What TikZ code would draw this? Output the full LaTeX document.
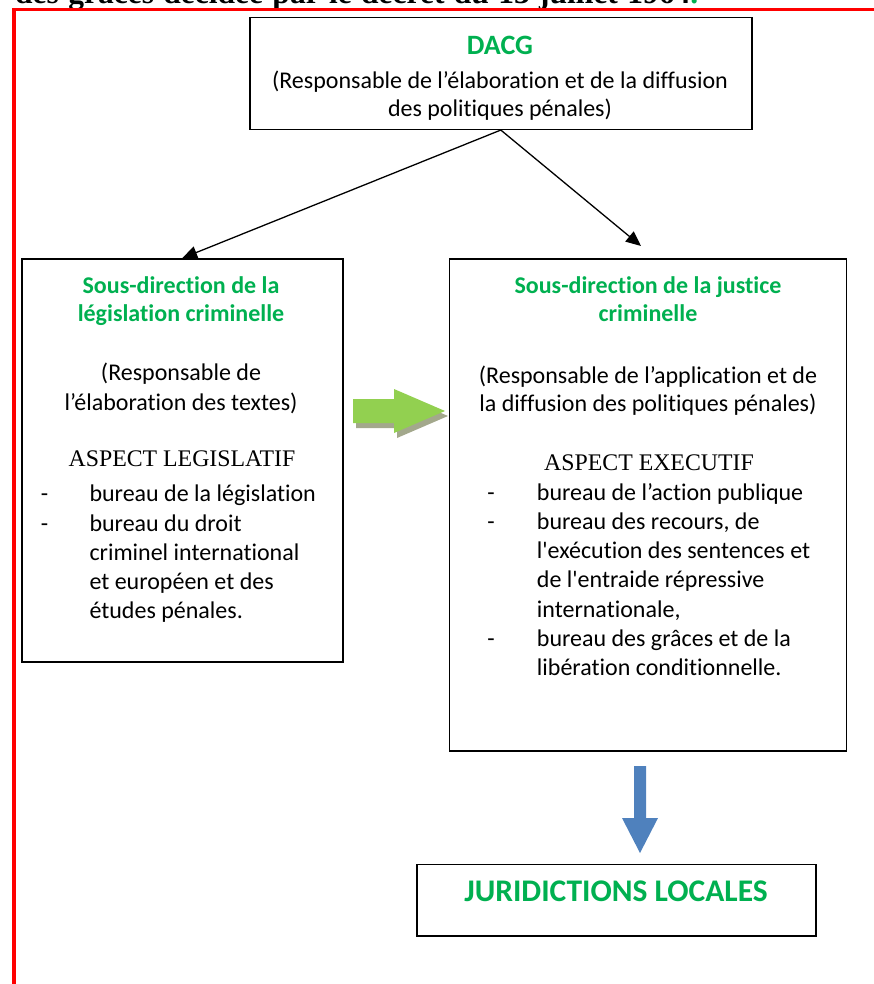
\documentclass[tikz,border=0pt]{standalone}
\usepackage{fontspec}
\newfontfamily\calfont{Carlito}[Ligatures=NoCommon]
\newfontfamily\garfont{Liberation Serif}
\usetikzlibrary{arrows.meta,calc}
\definecolor{hgreen}{HTML}{00B050}
\definecolor{agreen}{HTML}{92D050}
\definecolor{ashadow}{HTML}{A3A88C}
\definecolor{ablue}{HTML}{4F81BD}
\definecolor{fred}{HTML}{FF0000}
\begin{document}
\begin{tikzpicture}[x=1pt,y=-1pt,
  box/.style={draw=black, line width=1.6pt, inner sep=0pt},
  txt/.style={inner sep=0pt, anchor=base, font=\calfont\fontsize{24}{29}\selectfont},
  item/.style={inner sep=0pt, anchor=base west, font=\calfont\fontsize{24}{29}\selectfont},
  dashmark/.style={inner sep=0pt, anchor=base, font=\calfont\fontsize{24}{29}\selectfont},
  head/.style={inner sep=0pt, anchor=base, text=hgreen, font=\calfont\fontsize{24}{29}\selectfont\bfseries},
  aspect/.style={inner sep=0pt, anchor=base, font=\garfont\fontsize{23.8}{28}\selectfont},
  conn/.style={line width=1.3pt, -{Triangle[length=15pt,width=13pt]}}
]
\useasboundingbox (0,0) rectangle (873,984);

% clipped caption line at the very top
\node[inner sep=0pt, anchor=base west, font=\garfont\bfseries\fontsize{31.5}{34}\selectfont] (toptext) at (15,4)
  {\makebox[683pt][s]{des grâces décidée par le décret du 13 juillet 1964\textcolor{hgreen}{.}}};

% red frame
\draw[fred, line width=3.5pt] (14,990) -- (14,9.5) -- (880,9.5);

% boxes
\node[box, line width=1.5pt, minimum width=502pt, minimum height=112pt] (dacg) at (500.8,73.3) {};
\node[box, minimum width=321pt, minimum height=403pt] (lbox) at (182.2,460.5) {};
\node[box, minimum width=397pt, minimum height=491.5pt] (rbox) at (648,505) {};
\node[box, line width=1.5pt, minimum width=399pt, minimum height=71.7pt] (jbox) at (616.3,900.2) {};

% connectors
\coordinate (rtip) at (641,246);
\draw[conn] (dacg.south) -- (lbox.north);
\draw[conn] (dacg.south) -- (rtip);

% green block arrow with shadow
\fill[ashadow] (356,404) -- (397,404) -- (397,394) -- (448,416) -- (397,438) -- (397,428) -- (356,428) -- cycle;
\fill[agreen] (353,399) -- (394,399) -- (394,389) -- (445,411) -- (394,433) -- (394,423) -- (353,423) -- cycle;

% blue block arrow
\fill[ablue] (634,766) -- (646,766) -- (646,818) -- (658,818) -- (640,853) -- (622,818) -- (634,818) -- cycle;

% DACG texts
\node[head, font=\calfont\fontsize{28}{34}\selectfont\bfseries] (dacgt) at (500,55) {DACG};
\node[txt] (dacg1) at (500,88.3) {(Responsable de l’élaboration et de la diffusion};
\node[txt] (dacg2) at (500,116.7) {des politiques pénales)};

% left box texts
\node[head] (lh1) at (181,293.3) {Sous-direction de la};
\node[head] (lh2) at (181,321.7) {législation criminelle};
\node[txt] (lr1) at (181,380) {(Responsable de};
\node[txt] (lr2) at (181,410) {l’élaboration des textes)};
\node[aspect] (la) at (182,466.7) {ASPECT LEGISLATIF};
\node[dashmark] (ld1) at (44.5,501.7) {-};
\node[item] (li1) at (89.3,501.7) {bureau de la législation};
\node[dashmark] (ld2) at (44.5,531) {-};
\node[item] (li2) at (89.3,531) {bureau du droit};
\node[item] (li3) at (89.3,560.2) {criminel international};
\node[item] (li4) at (89.3,589.4) {et européen et des};
\node[item] (li5) at (89.3,618.6) {études pénales.};

% right box texts
\node[head] (rh1) at (648,293) {Sous-direction de la justice};
\node[head] (rh2) at (648,321.7) {criminelle};
\node[txt] (rr1) at (648,383.3) {(Responsable de l’application et de};
\node[txt] (rr2) at (648,411.7) {la diffusion des politiques pénales)};
\node[aspect] (ra) at (649,470.7) {ASPECT EXECUTIF};
\node[dashmark] (rd1) at (491,500) {-};
\node[item] (ri1) at (536.7,500) {bureau de l’action publique};
\node[dashmark] (rd2) at (491,529.3) {-};
\node[item] (ri2) at (536.7,529.3) {bureau des recours, de};
\node[item] (ri3) at (536.7,558.6) {l'exécution des sentences et};
\node[item] (ri4) at (536.7,587.9) {de l'entraide répressive};
\node[item] (ri5) at (536.7,617.2) {internationale,};
\node[dashmark] (rd3) at (491,646.5) {-};
\node[item] (ri6) at (536.7,646.5) {bureau des grâces et de la};
\node[item] (ri7) at (536.7,675.8) {libération conditionnelle.};

% bottom box text
\node[head, font=\calfont\fontsize{31.5}{36}\selectfont\bfseries] (jt) at (616,901.7) {JURIDICTIONS LOCALES};
\end{tikzpicture}
\end{document}
